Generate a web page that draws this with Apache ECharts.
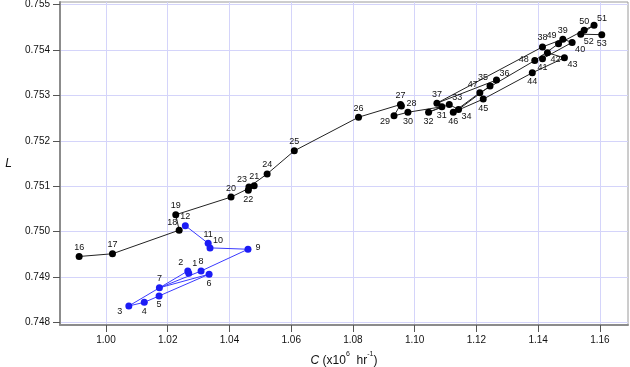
<!DOCTYPE html>
<html>
<head>
<meta charset="utf-8">
<script src="https://cdn.jsdelivr.net/npm/echarts@6/dist/echarts.min.js"></script>
<style>
html, body { margin: 0; padding: 0; background: #fff; }
#main { width: 630px; height: 367px; }
</style>
</head>
<body>
<div id="main"></div>
<script>
// run 1 (blue) : points 1-12
var blueIds = [1, 2, 3, 4, 5, 6, 7, 8, 9, 10, 11, 12];
var blueC = [1.0268, 1.0265, 1.0074, 1.0124, 1.0172, 1.0334, 1.0173, 1.0308, 1.0460, 1.0337, 1.0331, 1.0257];
var blueL = [0.74908, 0.74913, 0.74836, 0.74844, 0.74858, 0.74906, 0.74876, 0.74913, 0.74961, 0.74964, 0.74974, 0.75013];

// run 2 (black) : points 16-53
var blackIds = [16, 17, 18, 19, 20, 21, 22, 23, 24, 25, 26, 27, 28, 29, 30, 31, 32, 33, 34,
    35, 36, 37, 38, 39, 40, 41, 42, 43, 44, 45, 46, 47, 48, 49, 50, 51, 52, 53];
var blackC = [0.9913, 1.0021, 1.0237, 1.0226, 1.0405, 1.0480, 1.0461, 1.0463, 1.0522, 1.0610,
    1.0818, 1.0954, 1.0957, 1.0933, 1.0978, 1.1088, 1.1045, 1.1112, 1.1142, 1.1244,
    1.1265, 1.1072, 1.1414, 1.1480, 1.1510, 1.1414, 1.1430, 1.1485, 1.1381, 1.1222,
    1.1125, 1.1211, 1.1389, 1.1466, 1.1549, 1.1581, 1.1538, 1.1606];
var blackL = [0.74945, 0.74951, 0.75003, 0.75037, 0.75076, 0.75101, 0.75091, 0.75098, 0.75127, 0.75178,
    0.75252, 0.75280, 0.75277, 0.75255, 0.75263, 0.75275, 0.75263, 0.75280, 0.75269, 0.75321,
    0.75334, 0.75283, 0.75407, 0.75424, 0.75417, 0.75381, 0.75394, 0.75383, 0.75350, 0.75292,
    0.75263, 0.75306, 0.75377, 0.75414, 0.75444, 0.75455, 0.75435, 0.75434];

var xTicks = [1.00, 1.02, 1.04, 1.06, 1.08, 1.10, 1.12, 1.14, 1.16];
var yTicks = [0.748, 0.749, 0.750, 0.751, 0.752, 0.753, 0.754, 0.755];

// where the number sits next to its point (default: above)
var labelSide = {
    1: 'tr1', 2: 'tl', 3: 'bl', 4: 'b', 5: 'b', 6: 'b', 9: 'r', 10: 'tr',
    18: 'tl', 22: 'b', 23: 'tl', 28: 'r', 29: 'bl', 30: 'b', 31: 'b', 32: 'b',
    33: 'tr', 34: 'br', 35: 'tl', 36: 'tr', 40: 'br', 41: 'b', 42: 'br', 43: 'br',
    44: 'b', 45: 'b', 46: 'b', 47: 'tl', 48: 'l', 49: 'tl', 51: 'tr', 52: 'br', 53: 'b'
};
var sideOffset = {
    t: [0, -9], b: [0, 9], l: [-11, -1], r: [10, -2],
    tl: [-7, -8], tr: [8, -7], bl: [-9, 6], br: [8, 7], tr1: [6, -10]
};

function pointData(ids, cs, ls) {
    return ids.map(function (id, i) {
        return {
            value: [cs[i], ls[i]],
            label: { offset: sideOffset[labelSide[id] || 't'], formatter: String(id) }
        };
    });
}

var font = 'Liberation Sans, Arial, Helvetica, sans-serif';

var myChart = echarts.init(document.getElementById('main'));
myChart.setOption({
    animation: false,
    textStyle: { fontFamily: font },
    grid: {
        left: 60, right: 2, top: 2, bottom: 42,
        outerBoundsMode: 'none',
        containLabel: false,
        show: true, borderColor: '#9a9a9a', borderWidth: 1
    },
    xAxis: {
        type: 'value',
        min: 0.9851, max: 1.1691,
        axisLine: { show: true, onZero: false, lineStyle: { color: '#8c8c8c', width: 2 } },
        axisTick: { show: true, length: 7, customValues: xTicks, lineStyle: { color: '#555' } },
        axisLabel: {
            customValues: xTicks, fontSize: 10, color: '#111', margin: 10,
            formatter: function (v) { return v.toFixed(2); }
        },
        splitLine: { show: true, lineStyle: { color: '#d4d4fa', width: 1 } },
        name: '{i|C}{n| (x10}{s|6}{n|  hr}{s|-1}{n|)}',
        nameLocation: 'middle',
        nameGap: 26,
        nameTextStyle: {
            fontSize: 12, color: '#111', lineHeight: 16,
            rich: {
                i: { fontStyle: 'italic', fontSize: 12, lineHeight: 16, verticalAlign: 'bottom', color: '#111' },
                n: { fontSize: 12, lineHeight: 16, verticalAlign: 'bottom', color: '#111' },
                s: { fontSize: 7, lineHeight: 8, verticalAlign: 'top', color: '#111' }
            }
        }
    },
    yAxis: {
        type: 'value',
        min: 0.74794, max: 0.75506,
        axisLine: { show: true, onZero: false, lineStyle: { color: '#8c8c8c', width: 2 } },
        axisTick: { show: true, length: 7, customValues: yTicks, lineStyle: { color: '#555' } },
        axisLabel: {
            customValues: yTicks, fontSize: 10, color: '#111', margin: 10,
            formatter: function (v) { return v.toFixed(3); }
        },
        splitLine: { show: true, lineStyle: { color: '#d4d4fa', width: 1 } },
        name: 'L',
        nameLocation: 'middle',
        nameRotate: 0,
        nameGap: 48,
        nameTextStyle: { fontSize: 12, fontStyle: 'italic', color: '#111' }
    },
    series: [
        {
            type: 'line',
            data: pointData(blueIds, blueC, blueL),
            symbol: 'circle',
            symbolSize: 7,
            showAllSymbol: true,
            itemStyle: { color: '#1c1cf5' },
            lineStyle: { color: '#3a3aff', width: 1 },
            label: { show: true, position: 'inside', fontSize: 9, color: '#111' },
            z: 3
        },
        {
            type: 'line',
            data: pointData(blackIds, blackC, blackL),
            symbol: 'circle',
            symbolSize: 7,
            showAllSymbol: true,
            itemStyle: { color: '#000' },
            lineStyle: { color: '#222', width: 1 },
            label: { show: true, position: 'inside', fontSize: 9, color: '#111' },
            z: 2
        }
    ]
});
</script>
</body>
</html>
